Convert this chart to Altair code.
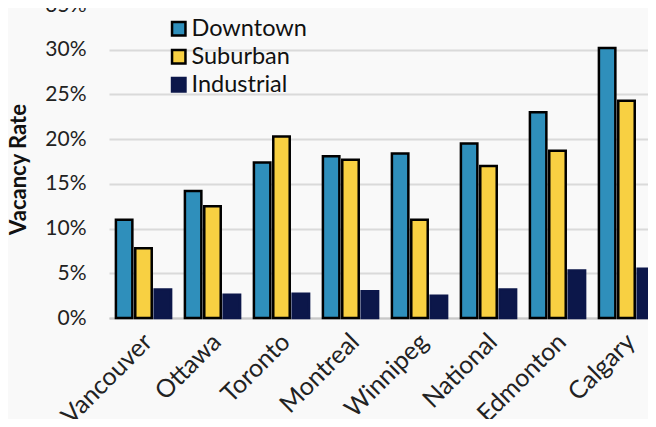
import altair as alt
import pandas as pd

cities = ["Vancouver", "Ottawa", "Toronto", "Montreal", "Winnipeg", "National", "Edmonton", "Calgary"]
downtown = [11.0, 14.2, 17.4, 18.1, 18.4, 19.5, 23.0, 30.2]
suburban = [7.8, 12.5, 20.3, 17.7, 11.0, 17.0, 18.7, 24.3]
industrial = [3.2, 2.6, 2.7, 3.0, 2.5, 3.2, 5.3, 5.5]
types = ["Downtown", "Suburban", "Industrial"]
y_ticks = [0, 5, 10, 15, 20, 25, 30, 35]

rows = []
for i, c in enumerate(cities):
    for t, vals in zip(types, [downtown, suburban, industrial]):
        rows.append({"city": c, "type": t, "value": vals[i]})
df = pd.DataFrame(rows)

FONT = "Lato"

chart = alt.Chart(df).mark_bar(strokeWidth=2.5).encode(
    x=alt.X("city:N", sort=cities, title=None,
            scale=alt.Scale(paddingInner=0.2, paddingOuter=0.1),
            axis=alt.Axis(labelAngle=315, labelFontSize=25, labelFont=FONT, labelColor="#222",
                          ticks=False, domainColor="#c8c8c8", domainWidth=2,
                          labelPadding=11, labelOffset=-4)),
    xOffset=alt.XOffset("type:N", sort=types, scale=alt.Scale(paddingInner=0.15)),
    y=alt.Y("value:Q", title="Vacancy Rate",
            scale=alt.Scale(domain=[0, 35], nice=False),
            axis=alt.Axis(values=y_ticks, labelExpr="datum.value + '%'", labelFontSize=21,
                          labelFont=FONT, labelColor="#222", ticks=False, domain=False,
                          labelPadding=23,
                          gridColor="#dadada", gridWidth=2,
                          titleFont=FONT, titleFontSize=22, titleFontWeight="bold",
                          titleColor="#111", titleX=-91, titleY=164, titleAngle=270,
                          titleAlign="center", titleBaseline="middle")),
    fill=alt.Fill("type:N", sort=types,
                  scale=alt.Scale(domain=types, range=["#2f8fbb", "#f8d042", "#0c174a"]),
                  legend=alt.Legend(title=None, orient="none", legendX=58, legendY=12,
                                    symbolType="square", symbolSize=180, symbolStrokeWidth=2.5,
                                    labelFont=FONT, labelFontSize=23.5, labelColor="#111",
                                    rowPadding=3, labelOffset=1)),
    stroke=alt.Stroke("type:N", sort=types,
                      scale=alt.Scale(domain=types, range=["#000000", "#000000", "#0c174a"]),
                      legend=None),
).properties(
    width=552, height=313,
    background="#f9f9f9",
    autosize=alt.AutoSizeParams(type="none"),
    padding={"left": 101, "top": -3, "right": -13, "bottom": 101},
).configure_view(stroke=None)

chart.save("out.html", embed_options={"renderer": "svg", "actions": False})
